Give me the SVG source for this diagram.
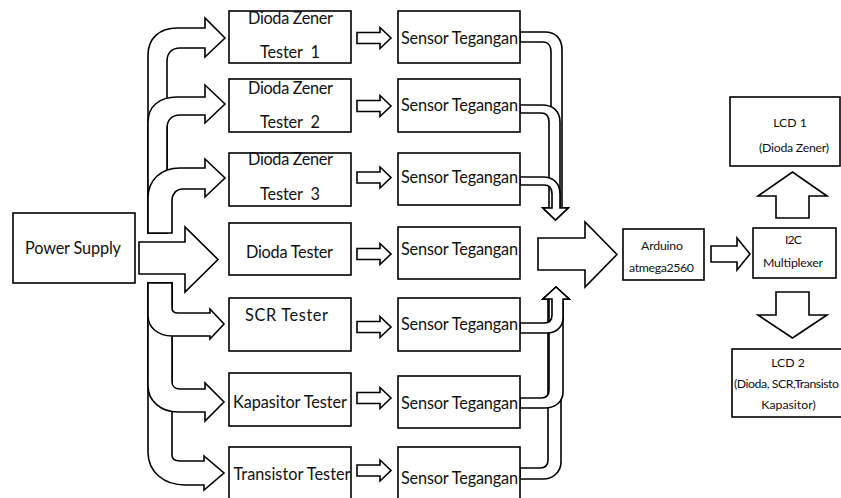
<svg xmlns="http://www.w3.org/2000/svg" width="841" height="498" viewBox="0 0 841 498">
<style>
.b{fill:#fff;stroke:#000;stroke-width:1.6;stroke-linejoin:miter}
.a{fill:#fff;stroke:#000;stroke-width:1.6;stroke-linejoin:miter}
.t{font-family:Lato,"Liberation Sans",sans-serif;font-size:16.3px;fill:#111}
.m{text-anchor:middle}
.s{font-family:Lato,"Liberation Sans",sans-serif;font-size:12.3px;fill:#111;text-anchor:middle}
</style>
<rect width="841" height="498" fill="#fff"/>
<g id="connectors">
  <!-- power supply to upper testers -->
  <path class="a" d="M148,233 L148,55 C148,38 160,28 177,28 L205,28 L205,18 L225,38 L205,57 L205,48 L180,48 C172,48 167,53 167,61 L167,233 Z"/>
  <path class="a" d="M148,233 L148,122 C148,106 160,97 177,97 L205,97 L205,85 L225,104 L205,123 L205,115 L180,115 C172,115 167,120 167,128 L167,233 Z"/>
  <path class="a" d="M148,233 L148,198 C148,180 161,168 180,168 L205,168 L205,159 L225,178 L205,197 L205,189 L183,189 C176,189 172,194 172,201 L172,233 Z"/>
  <!-- power supply to dioda tester -->
  <path class="a" d="M139,242 L185,242 L185,227 L218,259.5 L185,292 L185,274 L139,274 Z"/>
  <!-- power supply to lower testers -->
  <path class="a" d="M148,283 L172,283 L172,455 C172,459 175,461 180,461 L204,461 L204,456 L224,473 L204,490 L204,485 L185,485 C164,485 148,472 148,452 Z"/>
  <path class="a" d="M148,283 L172,283 L172,382 C172,386 175,389 180,389 L205,389 L205,383 L224,402 L205,421 L205,412 L178,412 C161,412 148,401 148,386 Z"/>
  <path class="a" d="M148,283 L172,283 L172,308 C172,311 174,313 178,313 L210,313 L210,309 L224,324 L210,339 L210,336 L172,336 C159,336 148,328 148,316 Z"/>
  <!-- tester to sensor -->
  <path class="a" d="M357,32.5 L380,32.5 L380,27.5 L391,38 L380,48.5 L380,43.5 L357,43.5 Z"/>
  <path class="a" d="M357,100.5 L380,100.5 L380,95.5 L391,106 L380,116.5 L380,111.5 L357,111.5 Z"/>
  <path class="a" d="M357,172 L380,172 L380,167 L391,177.5 L380,188 L380,183 L357,183 Z"/>
  <path class="a" d="M357,248.5 L380,248.5 L380,243.5 L391,254 L380,264.5 L380,259.5 L357,259.5 Z"/>
  <path class="a" d="M357,321.5 L380,321.5 L380,316.5 L391,327 L380,337.5 L380,332.5 L357,332.5 Z"/>
  <path class="a" d="M357,392.5 L380,392.5 L380,387.5 L391,398 L380,408.5 L380,403.5 L357,403.5 Z"/>
  <path class="a" d="M357,465 L380,465 L380,460 L391,470.5 L380,481 L380,476 L357,476 Z"/>
  <!-- upper sensors down -->
  <path class="a" d="M520,32 L545,32 C556,32 562,39 562,50 L562,208 L568,208 L555.5,220 L543,208 L551,208 L551,52 C551,46 548,42 543,42 L520,42 Z"/>
  <path class="a" d="M520,105 L542,105 C553,105 560,111 560,122 L560,208 L568,208 L555.5,220 L543,208 L549,208 L549,122 C549,116 546,113 541,113 L520,113 Z"/>
  <path class="a" d="M520,177 L543,177 C554,177 560,184 560,194 L560,208 L568,208 L555.5,220 L543,208 L552,208 L552,194 C552,188 549,185 544,185 L520,185 Z"/>
  <!-- lower sensors up -->
  <path class="a" d="M520,468 L540,468 C545,468 548,465 548,460 L548,299 L543,299 L556,287 L569,299 L561,299 L561,462 C561,472 553,479 543,479 L520,479 Z"/>
  <path class="a" d="M520,398 L541,398 C546,398 549,395 549,390 L549,299 L543,299 L556,287 L569,299 L563,299 L563,392 C563,402 555,408 545,408 L520,408 Z"/>
  <path class="a" d="M520,323 L544,323 C549,323 552,320 552,315 L552,299 L543,299 L556,287 L569,299 L563,299 L563,318 C563,327 556,333 547,333 L520,333 Z"/>
  <!-- sensors to arduino -->
  <path class="a" d="M538,238 L585,238 L585,222 L617,254.5 L585,287 L585,270 L538,270 Z"/>
  <!-- arduino to i2c -->
  <path class="a" d="M711,246 L737,246 L737,238 L750,254 L737,270 L737,262 L711,262 Z"/>
  <!-- i2c to lcd1 -->
  <path class="a" d="M776,218 L776,196 L758,196 L792.5,172 L827,196 L809,196 L809,218 Z"/>
  <!-- i2c to lcd2 -->
  <path class="a" d="M776,292 L809,292 L809,315 L827,315 L792.5,338 L758,315 L776,315 Z"/>
</g>
<g id="power-supply">
  <rect class="b" x="13" y="213" width="122" height="70"/>
  <text class="t m" x="73" y="254" textLength="96">Power Supply</text>
</g>
<g id="dz-tester-1">
  <rect class="b" x="229" y="11" width="122" height="52"/>
  <text class="t m" x="290.5" y="24" textLength="85">Dioda Zener</text>
  <text class="t m" x="290" y="58" xml:space="preserve" textLength="60">Tester  1</text>
</g>
<g id="dz-tester-2">
  <rect class="b" x="229" y="79" width="122" height="53"/>
  <text class="t m" x="290.5" y="94" textLength="85">Dioda Zener</text>
  <text class="t m" x="290" y="128" xml:space="preserve" textLength="60">Tester  2</text>
</g>
<g id="dz-tester-3">
  <rect class="b" x="229" y="153" width="122" height="53"/>
  <text class="t m" x="290.5" y="165" textLength="85">Dioda Zener</text>
  <text class="t m" x="290" y="200" xml:space="preserve" textLength="60">Tester  3</text>
</g>
<g id="dioda-tester">
  <rect class="b" x="229" y="223" width="122" height="52"/>
  <text class="t m" x="289.5" y="258" textLength="87">Dioda Tester</text>
</g>
<g id="scr-tester">
  <rect class="b" x="229" y="298" width="122" height="53"/>
  <text class="t m" x="286.5" y="321" textLength="83">SCR Tester</text>
</g>
<g id="kapasitor-tester">
  <rect class="b" x="229" y="373" width="122" height="53"/>
  <text class="t m" x="290" y="408" textLength="114">Kapasitor Tester</text>
</g>
<g id="transistor-tester">
  <rect class="b" x="229" y="447" width="122" height="60"/>
  <text class="t m" x="292" y="480" textLength="117">Transistor Tester</text>
</g>
<g id="sensor-1">
  <rect class="b" x="398" y="11" width="122" height="52"/>
  <text class="t" x="401" y="44" textLength="117">Sensor Tegangan</text>
</g>
<g id="sensor-2">
  <rect class="b" x="398" y="79" width="122" height="53"/>
  <text class="t" x="401" y="111" textLength="117">Sensor Tegangan</text>
</g>
<g id="sensor-3">
  <rect class="b" x="398" y="153" width="122" height="52"/>
  <text class="t" x="401" y="183" textLength="117">Sensor Tegangan</text>
</g>
<g id="sensor-4">
  <rect class="b" x="398" y="227" width="122" height="52"/>
  <text class="t" x="401" y="255" textLength="117">Sensor Tegangan</text>
</g>
<g id="sensor-5">
  <rect class="b" x="398" y="298" width="122" height="53"/>
  <text class="t" x="401" y="330" textLength="117">Sensor Tegangan</text>
</g>
<g id="sensor-6">
  <rect class="b" x="398" y="376" width="122" height="52"/>
  <text class="t" x="401" y="409" textLength="117">Sensor Tegangan</text>
</g>
<g id="sensor-7">
  <rect class="b" x="398" y="447" width="122" height="60"/>
  <text class="t" x="401" y="484" textLength="117">Sensor Tegangan</text>
</g>
<g id="arduino">
  <rect class="b" x="623" y="229" width="81" height="51"/>
  <text class="s" x="662" y="250" textLength="42">Arduino</text>
  <text class="s" x="661.5" y="272" textLength="65">atmega2560</text>
</g>
<g id="i2c-multiplexer">
  <rect class="b" x="753" y="228" width="83" height="50"/>
  <text class="s" x="793.5" y="244" textLength="17">I2C</text>
  <text class="s" x="793" y="267" textLength="60">Multiplexer</text>
</g>
<g id="lcd-1">
  <rect class="b" x="730" y="97" width="110" height="69"/>
  <text class="s" x="790" y="127">LCD 1</text>
  <text class="s" x="794" y="152" textLength="70">(Dioda Zener)</text>
</g>
<g id="lcd-2">
  <rect class="b" x="732" y="349" width="120" height="68"/>
  <text class="s" x="788" y="367">LCD 2</text>
  <text class="s" x="734" y="388" style="text-anchor:start" textLength="105">(Dioda, SCR,Transisto</text>
  <text class="s" x="788.5" y="409">Kapasitor)</text>
</g>
</svg>
